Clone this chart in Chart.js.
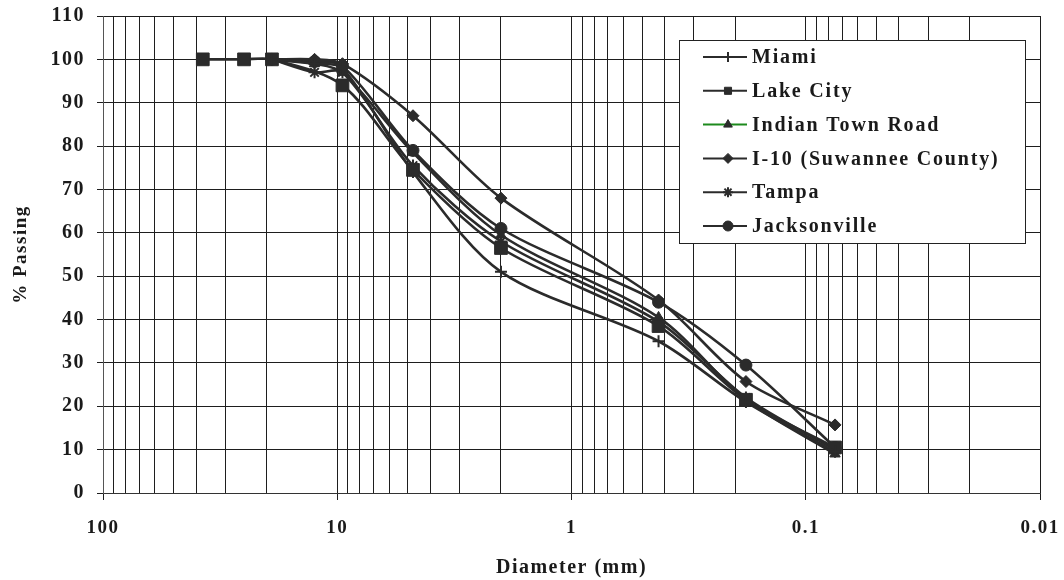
<!DOCTYPE html>
<html>
<head>
<meta charset="utf-8">
<script src="https://cdn.jsdelivr.net/npm/chart.js@4.4.1/dist/chart.umd.min.js"></script>
<style>
  html, body { margin: 0; padding: 0; background: #fff; }
  #wrap { width: 1064px; height: 580px; }
</style>
</head>
<body>
<div id="wrap"><canvas id="gradChart" width="1064" height="580"></canvas></div>
<script>
// sieve sizes (mm)
const sizes = [37.5, 25, 19, 12.5, 9.5, 4.75, 2.0, 0.425, 0.18, 0.075];

// % passing per site (null = no reading)
const miami        = [null, null, 100, 99,   98,   74,   51,   35,   21,   9.5];
const lakeCity     = [100,  100,  100, null, 94,   74.5, 56.5, 38.5, 21.5, 10.5];
const indianTown   = [null, null, 100, 99,   97,   78.5, 59.5, 40.5, 21.5, 9];
const i10          = [null, null, 100, 100,  99,   87,   68,   44.5, 25.7, 15.7];
const tampa        = [null, null, 100, 97,   97,   75.5, 58,   39.5, 22,   10];
const jacksonville = [null, null, 100, 99.5, 98.5, 79,   61,   44,   29.5, 10.5];

const xLabels = ['100', '10', '1', '0.1', '0.01'];

const dark = '#2b2b2b';
const serif = "'Liberation Serif', 'Times New Roman', serif";

function pts(arr) {
  return sizes.map((s, i) => ({ x: s, y: arr[i] })).filter(p => p.y !== null);
}

function ds(label, arr, style, radius, legendColor) {
  return {
    label: label,
    data: pts(arr),
    borderColor: dark,
    legendColor: legendColor || dark,
    backgroundColor: dark,
    pointBorderColor: dark,
    pointBackgroundColor: dark,
    pointStyle: style,
    pointRadius: radius,
    pointBorderWidth: style === 'cross' || style === 'star' ? 2 : 1,
    borderWidth: 2.6,
    tension: 0.3,
    fill: false,
  };
}

// gridline values: 1..9 in each decade, 0.01 to 100
const gridVals = [];
[0.01, 0.1, 1, 10].forEach(d => {
  for (let m = 1; m <= 9; m++) gridVals.push(+(m * d).toPrecision(3));
});
gridVals.push(100);

function isDecade(v) {
  const l = Math.log10(v);
  return Math.abs(l - Math.round(l)) < 1e-9;
}

// wider type, like the scanned original
const spacing = {
  id: 'spacing',
  beforeDraw(chart) { chart.ctx.letterSpacing = '1.5px'; },
};

// legend drawn inside the plot
const boxLegend = {
  id: 'boxLegend',
  afterDraw(chart) {
    const ctx = chart.ctx;
    const area = chart.chartArea;
    const x0 = area.right - 361, y0 = area.top + 24, w = 346, h = 203;
    ctx.save();
    ctx.fillStyle = '#fff';
    ctx.fillRect(x0, y0, w, h);
    ctx.strokeStyle = '#222';
    ctx.lineWidth = 1;
    ctx.strokeRect(x0 + 0.5, y0 + 0.5, w, h);
    ctx.font = 'bold 20px ' + serif;
    ctx.letterSpacing = '1.8px';
    ctx.textBaseline = 'middle';
    chart.data.datasets.forEach((d, i) => {
      const y = y0 + 17 + i * 33.8;
      ctx.strokeStyle = d.legendColor;
      ctx.lineWidth = 2;
      ctx.beginPath();
      ctx.moveTo(x0 + 24, y);
      ctx.lineTo(x0 + 68, y);
      ctx.stroke();
      ctx.fillStyle = dark;
      ctx.strokeStyle = dark;
      ctx.lineWidth = d.pointBorderWidth;
      Chart.helpers.drawPoint(ctx, {
        pointStyle: d.pointStyle,
        radius: Math.min(d.pointRadius, 5),
        rotation: 0,
        borderWidth: d.pointBorderWidth,
      }, x0 + 49, y);
      ctx.fillStyle = '#1a1a1a';
      ctx.fillText(d.label, x0 + 73, y + 1);
    });
    ctx.restore();
  }
};

const ctx = document.getElementById('gradChart').getContext('2d');

const chart = new Chart(ctx, {
  type: 'line',
  data: {
    datasets: [
      ds('Miami', miami, 'cross', 6),
      ds('Lake City', lakeCity, 'rect', 9),
      ds('Indian Town Road', indianTown, 'triangle', 6, '#1d8a1d'),
      ds('I-10 (Suwannee County)', i10, 'rectRot', 6),
      ds('Tampa', tampa, 'star', 6),
      ds('Jacksonville', jacksonville, 'circle', 6),
    ],
  },
  plugins: [spacing, boxLegend],
  options: {
    responsive: false,
    animation: false,
    layout: { padding: { top: 16, right: 24, left: 0, bottom: 0 } },
    plugins: {
      legend: { display: false },
      tooltip: { enabled: false },
    },
    scales: {
      x: {
        type: 'logarithmic',
        reverse: true,
        min: 0.01,
        max: 100,
        afterBuildTicks: (scale) => {
          scale.ticks = gridVals.map(v => ({ value: v, major: isDecade(v) }));
        },
        afterFit: (scale) => {
          scale.height = 87;
          scale.paddingLeft = 0;
          scale.paddingRight = 0;
        },
        grid: {
          color: '#1e1e1e',
          lineWidth: 1,
          drawTicks: true,
          tickLength: 7,
          tickColor: (c) => (c.tick && isDecade(c.tick.value) ? '#1e1e1e' : 'rgba(0,0,0,0)'),
        },
        border: { color: '#333', width: 1 },
        ticks: {
          autoSkip: false,
          maxRotation: 0,
          padding: 17,
          color: '#1a1a1a',
          font: { family: serif, size: 19, weight: 'bold' },
          callback: (v) => {
            if (!isDecade(v)) return '';
            const k = Math.round(2 - Math.log10(v));
            return xLabels[k];
          },
        },
        title: {
          display: true,
          text: 'Diameter (mm)',
          color: '#1a1a1a',
          font: { family: serif, size: 20, weight: 'bold' },
          padding: { top: 14, bottom: 0 },
        },
      },
      y: {
        min: 0,
        max: 110,
        afterFit: (scale) => {
          scale.width = 103;
          scale.paddingTop = 0;
          scale.paddingBottom = 0;
        },
        grid: {
          color: '#1e1e1e',
          lineWidth: 1,
          tickLength: 6,
        },
        border: { color: '#555', width: 1 },
        ticks: {
          stepSize: 10,
          padding: 12,
          color: '#1a1a1a',
          font: { family: serif, size: 20, weight: 'bold' },
        },
        title: {
          display: true,
          text: '% Passing',
          color: '#1a1a1a',
          font: { family: serif, size: 19, weight: 'bold' },
          padding: { top: 10, bottom: 0 },
        },
      },
    },
  },
});
</script>
</body>
</html>
